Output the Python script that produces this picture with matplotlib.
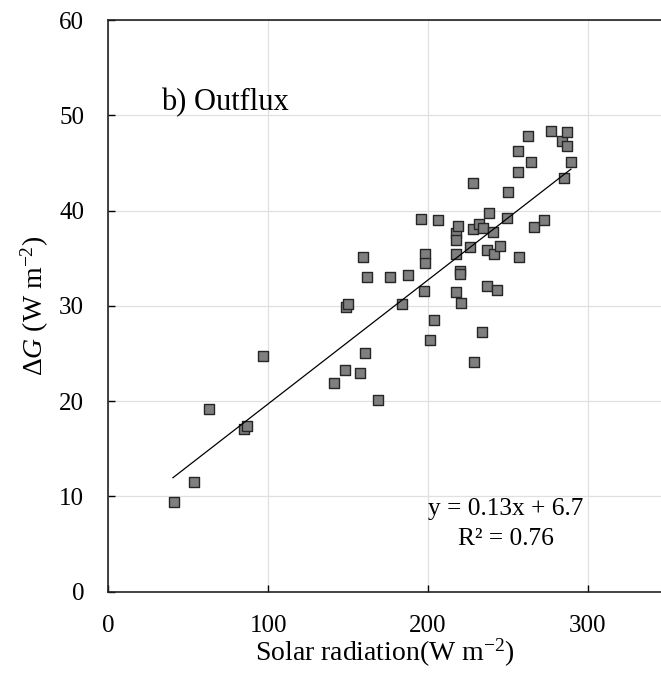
import matplotlib
matplotlib.use('Agg')
import matplotlib.pyplot as plt
import numpy as np

plt.rcParams['font.family'] = ['Liberation Serif', 'DejaVu Serif']
plt.rcParams['mathtext.fontset'] = 'custom'
plt.rcParams['mathtext.rm'] = 'Liberation Serif'
plt.rcParams['mathtext.it'] = 'Liberation Serif:italic'

# solar radiation (W m-2) and ground heat flux change (W m-2), outflux days
solar = [41, 53.6, 63, 85, 86.5, 97, 141.2, 148.1, 148.7, 150.2, 157.3, 159.6,
         160.4, 161.7, 168.8, 176.3, 183.6, 187.5, 195.9, 197.6, 198.2, 198.2,
         201.1, 204, 206.5, 217.8, 217.6, 217.6, 217.6, 219, 220, 220, 220.9,
         226.2, 228.4, 228.4, 229.1, 232, 233.7, 234.5, 236.8, 236.8, 238.3,
         240.6, 241.2, 243.5, 245.1, 249.5, 250.4, 256.4, 256.4, 257, 262.5,
         264.6, 266.2, 272.9, 276.9, 283.8, 285.2, 287.3, 287.3, 289.6]
dG = [9.4, 11.5, 19.2, 17.1, 17.4, 24.7, 21.9, 23.3, 29.9, 30.2, 22.9, 35.1,
      25.0, 33.0, 20.1, 33.0, 30.2, 33.2, 39.1, 31.6, 35.4, 34.5,
      26.4, 28.5, 39.0, 37.6, 36.9, 35.4, 31.4, 38.4, 33.7, 33.3, 30.3,
      36.2, 42.9, 38.1, 24.1, 38.6, 27.2, 38.2, 35.9, 32.1, 39.7,
      37.7, 35.4, 31.7, 36.3, 39.2, 41.9, 46.2, 44.1, 35.1, 47.8,
      45.1, 38.3, 39.0, 48.3, 47.3, 43.4, 48.2, 46.8, 45.1]

slope = 0.13
intercept = 6.7
r2 = 0.76

fig = plt.figure(figsize=(6.61, 6.75), dpi=100)
ax = fig.add_axes([0.164, 0.1236, 0.836, 0.8467])

ax.grid(True, color='#e0e0e0', linewidth=0.9, zorder=0)
ax.scatter(solar, dG, marker='s', s=42, facecolor='#7f7f7f',
           edgecolor='#262626', linewidth=1.0, zorder=3)

xs = np.array([min(solar) - 0.6, max(solar)])
ax.plot(xs, slope * xs + intercept, color='black', linewidth=0.9, zorder=4)

ax.set_xlim(0, 346)
ax.set_ylim(0, 60)
ax.set_xticks([0, 100, 200, 300])
ax.set_yticks(range(0, 61, 10))
ax.tick_params(direction='in', length=5, width=1, labelsize=18)
ax.tick_params(axis='x', pad=17)
ax.tick_params(axis='y', pad=17.5)

for side in ['left', 'bottom', 'top']:
    ax.spines[side].set_linewidth(1.2)
    ax.spines[side].set_color('#222222')
ax.spines['right'].set_visible(False)

ax.set_xlabel('Solar radiation(W m$^{-2}$)', fontsize=20, labelpad=0)
ax.set_ylabel(r'$\Delta\mathit{G}$ (W m$^{-2}$)', fontsize=20, labelpad=6)

ax.text(33, 50.5, 'b) Outflux', fontsize=22)
ax.text(249, 8.0, 'y = %.2fx + %.1f' % (slope, intercept), fontsize=18.3, ha='center')
ax.text(249, 4.9, 'R² = %.2f' % r2, fontsize=18.3, ha='center')

fig.savefig('out.png', dpi=100)
